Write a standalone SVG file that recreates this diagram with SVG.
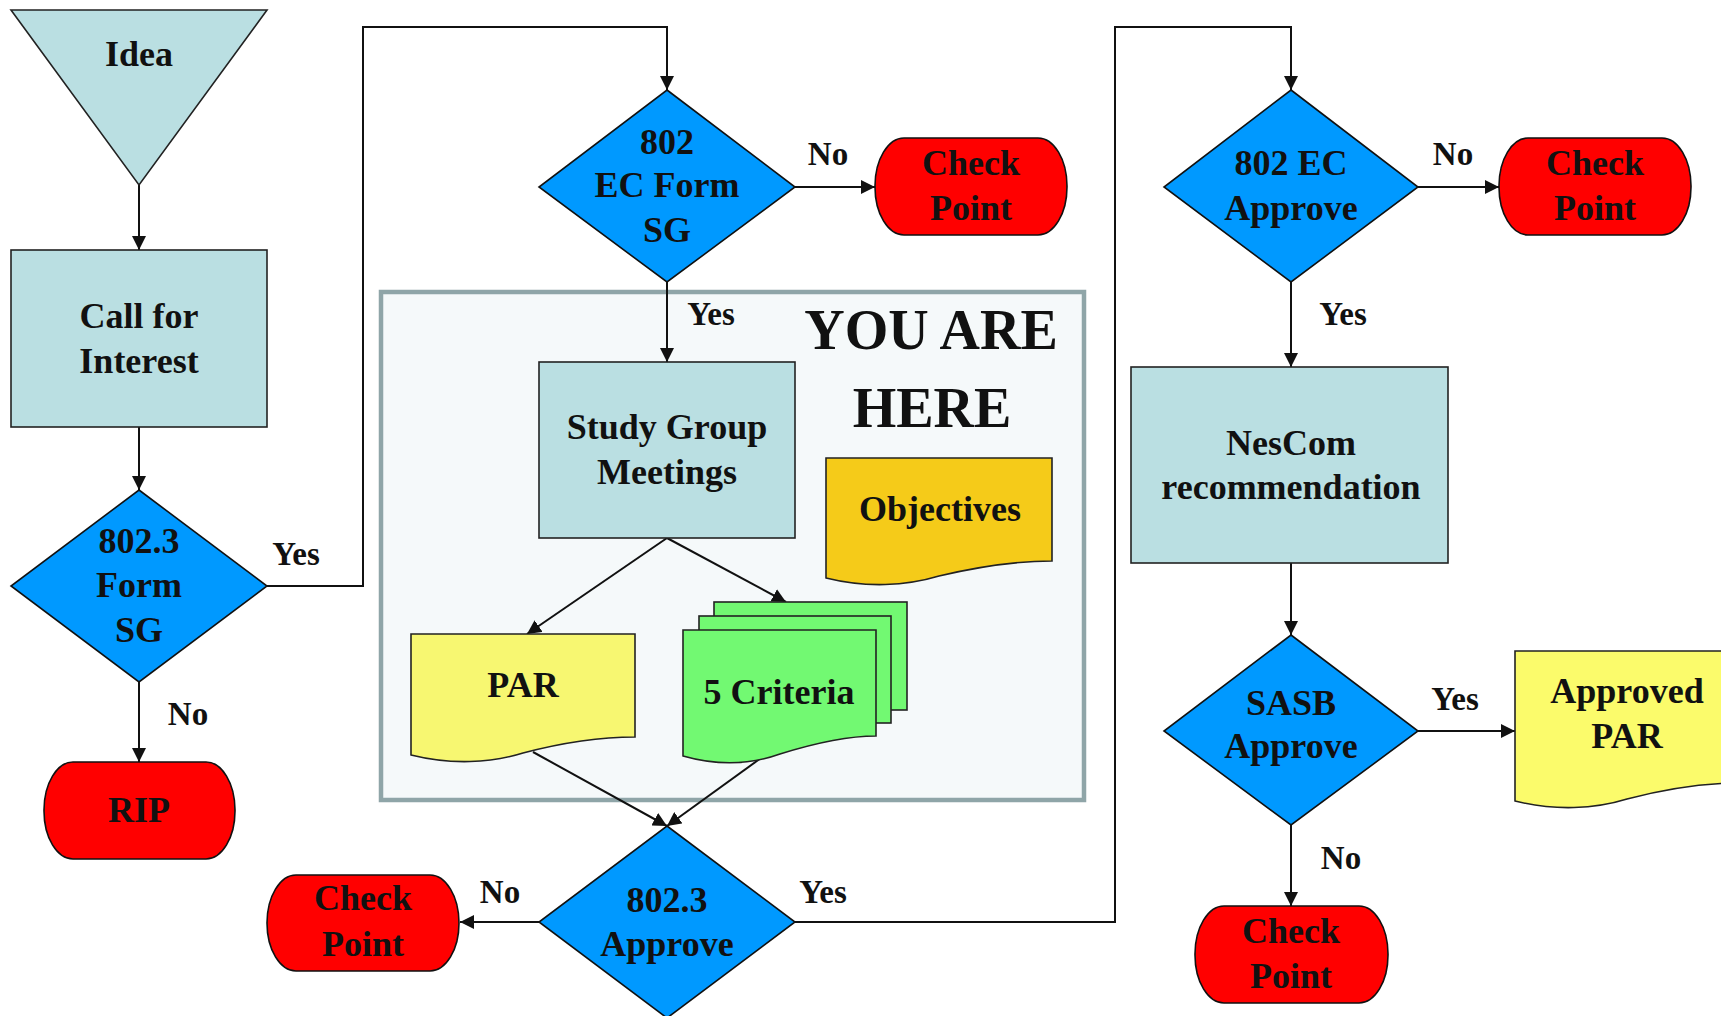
<svg xmlns="http://www.w3.org/2000/svg" width="1721" height="1016" viewBox="0 0 1721 1016">
<defs>
<marker id="arr" markerUnits="userSpaceOnUse" viewBox="0 0 14 14" markerWidth="14" markerHeight="14" refX="14" refY="7" orient="auto">
<path d="M0,0 L14,7 L0,14 Z" fill="#111"/>
</marker>
<style>
.t{font-family:"Liberation Serif","Times New Roman",serif;font-weight:bold;font-size:36px;fill:#111;text-anchor:middle}
.lbl{font-family:"Liberation Serif","Times New Roman",serif;font-weight:bold;font-size:33px;fill:#111;text-anchor:middle}
.big{font-family:"Liberation Serif","Times New Roman",serif;font-weight:bold;font-size:56px;fill:#111;text-anchor:middle}
.proc{fill:#BADFE2;stroke:#222;stroke-width:1.6}
.dec{fill:#0099FF;stroke:#111;stroke-width:1.6}
.term{fill:#FF0000;stroke:#111;stroke-width:1.6}
.doc{stroke:#222;stroke-width:1.6}
.con{fill:none;stroke:#111;stroke-width:2}
</style>
</defs>
<rect width="1721" height="1016" fill="#FFFFFF"/>

<g id="you-are-here">
<rect x="381" y="292" width="703" height="508" fill="#F5F9FA" stroke="#8FA5A8" stroke-width="4.5"/>
<text class="big" x="931" y="349">YOU ARE</text>
<text class="big" x="932" y="427">HERE</text>
</g>

<g id="connectors">
<path class="con" d="M139,185 V250" marker-end="url(#arr)"/>
<path class="con" d="M139,427 V490" marker-end="url(#arr)"/>
<path class="con" d="M267,586 H363 V27 H667 V90" marker-end="url(#arr)"/>
<path class="con" d="M139,682 V762" marker-end="url(#arr)"/>
<path class="con" d="M795,187 H875" marker-end="url(#arr)"/>
<path class="con" d="M667,282 V362" marker-end="url(#arr)"/>
<path class="con" d="M667,538 L527,634" marker-end="url(#arr)"/>
<path class="con" d="M667,538 L786,602" marker-end="url(#arr)"/>
<path class="con" d="M533,752 L667,826" marker-end="url(#arr)"/>
<path class="con" d="M761,758 L667,826" marker-end="url(#arr)"/>
<path class="con" d="M539,922 H460" marker-end="url(#arr)"/>
<path class="con" d="M795,922 H1115 V27 H1291 V90" marker-end="url(#arr)"/>
<path class="con" d="M1418,187 H1499" marker-end="url(#arr)"/>
<path class="con" d="M1291,282 V367" marker-end="url(#arr)"/>
<path class="con" d="M1291,563 V635" marker-end="url(#arr)"/>
<path class="con" d="M1418,731 H1515" marker-end="url(#arr)"/>
<path class="con" d="M1291,825 V906" marker-end="url(#arr)"/>
<text class="lbl" x="296" y="565">Yes</text>
<text class="lbl" x="188" y="725">No</text>
<text class="lbl" x="828" y="165">No</text>
<text class="lbl" x="711" y="325">Yes</text>
<text class="lbl" x="500" y="903">No</text>
<text class="lbl" x="823" y="903">Yes</text>
<text class="lbl" x="1453" y="165">No</text>
<text class="lbl" x="1343" y="325">Yes</text>
<text class="lbl" x="1455" y="710">Yes</text>
<text class="lbl" x="1341" y="869">No</text>
</g>

<g id="idea">
<polygon class="proc" points="11,10 267,10 139,185"/>
<text class="t" x="139" y="66">Idea</text>
</g>

<g id="call-for-interest">
<rect class="proc" x="11" y="250" width="256" height="177"/>
<text class="t" x="139" y="328">Call for</text>
<text class="t" x="139" y="373">Interest</text>
</g>

<g id="form-sg-8023">
<polygon class="dec" points="139,490 267,586 139,682 11,586"/>
<text class="t" x="139" y="553">802.3</text>
<text class="t" x="139" y="597">Form</text>
<text class="t" x="139" y="642">SG</text>
</g>

<g id="rip">
<rect class="term" x="44" y="762" width="191" height="97" rx="29" ry="48"/>
<text class="t" x="139" y="822">RIP</text>
</g>

<g id="ec-form-sg-802">
<polygon class="dec" points="667,90 795,187 667,282 539,187"/>
<text class="t" x="667" y="154">802</text>
<text class="t" x="667" y="197">EC Form</text>
<text class="t" x="667" y="242">SG</text>
</g>

<g id="checkpoint-1">
<rect class="term" x="875" y="138" width="192" height="97" rx="29" ry="48"/>
<text class="t" x="971" y="175">Check</text>
<text class="t" x="971" y="220">Point</text>
</g>

<g id="study-group">
<rect class="proc" x="539" y="362" width="256" height="176"/>
<text class="t" x="667" y="439">Study Group</text>
<text class="t" x="667" y="484">Meetings</text>
</g>

<g id="objectives">
<path class="doc" fill="#F5CB19" d="M826,458 H1052 V561 C1018,561 977,567 939,576 C906,586 866,588 826,578 Z"/>
<text class="t" x="940" y="521">Objectives</text>
</g>

<g id="par">
<path class="doc" fill="#F7F771" d="M411,634 H635 V737 C601,737 561,743 523,753 C491,763 451,765 411,755 Z"/>
<text class="t" x="523" y="697">PAR</text>
</g>

<g id="five-criteria">
<rect class="doc" fill="#72F972" x="714" y="602" width="193" height="108"/>
<rect class="doc" fill="#72F972" x="699" y="616" width="192" height="107"/>
<path class="doc" fill="#72F972" d="M683,630 H876 V736 C847,736 812,744 780,754 C752,764 718,766 683,756 Z"/>
<text class="t" x="779" y="704">5 Criteria</text>
</g>

<g id="approve-8023">
<polygon class="dec" points="667,826 795,922 667,1018 539,922"/>
<text class="t" x="667" y="912">802.3</text>
<text class="t" x="667" y="956">Approve</text>
</g>

<g id="checkpoint-2">
<rect class="term" x="267" y="875" width="192" height="96" rx="29" ry="48"/>
<text class="t" x="363" y="910">Check</text>
<text class="t" x="363" y="956">Point</text>
</g>

<g id="ec-approve-802">
<polygon class="dec" points="1291,90 1418,187 1291,282 1164,187"/>
<text class="t" x="1291" y="175">802 EC</text>
<text class="t" x="1291" y="220">Approve</text>
</g>

<g id="checkpoint-3">
<rect class="term" x="1499" y="138" width="192" height="97" rx="29" ry="48"/>
<text class="t" x="1595" y="175">Check</text>
<text class="t" x="1595" y="220">Point</text>
</g>

<g id="nescom">
<rect class="proc" x="1131" y="367" width="317" height="196"/>
<text class="t" x="1291" y="455">NesCom</text>
<text class="t" x="1291" y="499">recommendation</text>
</g>

<g id="sasb-approve">
<polygon class="dec" points="1291,635 1418,731 1291,825 1164,731"/>
<text class="t" x="1291" y="715">SASB</text>
<text class="t" x="1291" y="758">Approve</text>
</g>

<g id="approved-par">
<path class="doc" fill="#FBFB6B" d="M1515,651 H1739 V783 C1705,783 1665,789 1627,799 C1595,809 1555,811 1515,801 Z"/>
<text class="t" x="1627" y="703">Approved</text>
<text class="t" x="1627" y="748">PAR</text>
</g>

<g id="checkpoint-4">
<rect class="term" x="1195" y="906" width="193" height="97" rx="29" ry="48"/>
<text class="t" x="1291" y="943">Check</text>
<text class="t" x="1291" y="988">Point</text>
</g>
</svg>
